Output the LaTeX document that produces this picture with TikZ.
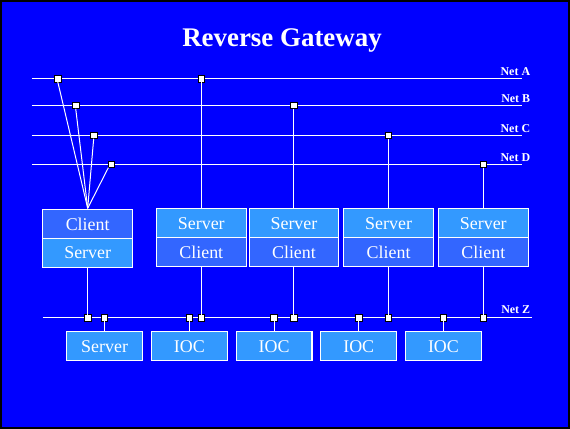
\documentclass[tikz,border=0pt]{standalone}
\usepackage{fontspec}
\setmainfont{Liberation Serif}
\usetikzlibrary{positioning}
\definecolor{bgblue}{RGB}{0,0,255}
\definecolor{lightbox}{RGB}{51,153,255}
\definecolor{darkbox}{RGB}{51,102,255}
\tikzset{
	every node/.style={outer sep=0pt},
}
\tikzstyle{net}=[draw=white, line width=1.2pt]
\tikzstyle{link}=[draw=white, line width=1pt]
\tikzstyle{tap}=[draw=black, fill=white, line width=0.8pt, minimum size=6.5pt, inner sep=0pt]
\tikzstyle{half}=[draw=white, line width=1.2pt, minimum width=90pt, minimum height=29pt, inner sep=0pt, text=white, font=\fontsize{18}{18}\selectfont]
\tikzstyle{lowbox}=[half, fill=lightbox, minimum width=76pt]
\tikzstyle{netlabel}=[anchor=east, text=white, inner sep=0pt, font=\fontsize{12}{12}\selectfont\bfseries]

\begin{document}
\begin{tikzpicture}[x=1pt,y=-1pt]
	% background.....................
	\fill [bgblue] (0,0) rectangle (570,428);
	\draw [black, line width=2pt] (0,0) rectangle (570,428);
	\useasboundingbox (0,0) rectangle (570,428);

	% title.....................
	\node [text=white, font=\fontsize{27}{27}\selectfont\bfseries] (title) at (282,40) {Reverse Gateway};

	% nets......................
	\draw [net] (31,78) coordinate (aL) -- (523,78) coordinate (aR);
	\draw [net] (31,105) coordinate (bL) -- (523,105) coordinate (bR);
	\draw [net] (31,135) coordinate (cL) -- (523,135) coordinate (cR);
	\draw [net] (31,164) coordinate (dL) -- (523,164) coordinate (dR);
	\draw [net] (42,318) coordinate (zL) -- (533,318) coordinate (zR);
	\node [netlabel] (labA) at (531,71) {Net A};
	\node [netlabel] (labB) at (531,98) {Net B};
	\node [netlabel] (labC) at (531,128) {Net C};
	\node [netlabel] (labD) at (531,157) {Net D};
	\node [netlabel] (labZ) at (531,310) {Net Z};

	% taps on the nets..........
	\node [tap] (tA1) at (57,78) {};
	\node [tap] (tB1) at (75,105) {};
	\node [tap] (tC1) at (93,135) {};
	\node [tap] (tD1) at (111,164) {};
	\node [tap] (tA2) at (201,78) {};
	\node [tap] (tB2) at (294,105) {};
	\node [tap] (tC2) at (389,135) {};
	\node [tap] (tD2) at (484,164) {};

	\node [tap] (tZ1) at (87,318) {};
	\node [tap] (tZ2) at (104,318) {};
	\node [tap] (tZ3) at (189,318) {};
	\node [tap] (tZ4) at (201,318) {};
	\node [tap] (tZ5) at (274,318) {};
	\node [tap] (tZ6) at (294,318) {};
	\node [tap] (tZ7) at (359,318) {};
	\node [tap] (tZ8) at (389,318) {};
	\node [tap] (tZ9) at (444,318) {};
	\node [tap] (tZ10) at (484,318) {};

	% gateway boxes.............
	\node [half, fill=darkbox] (gwCl) at (87,224) {Client};
	\node [half, fill=lightbox, below=0pt of gwCl] (gwSv) {Server};

	\node [half, fill=lightbox] (sv1) at (201,223) {Server};
	\node [half, fill=darkbox, below=0pt of sv1] (cl1) {Client};
	\node [half, fill=lightbox] (sv2) at (294,223) {Server};
	\node [half, fill=darkbox, below=0pt of sv2] (cl2) {Client};
	\node [half, fill=lightbox] (sv3) at (389,223) {Server};
	\node [half, fill=darkbox, below=0pt of sv3] (cl3) {Client};
	\node [half, fill=lightbox] (sv4) at (484,223) {Server};
	\node [half, fill=darkbox, below=0pt of sv4] (cl4) {Client};

	% bottom row................
	\node [lowbox] (srvZ) at (104,346.5) {Server};
	\node [lowbox, right=9pt of srvZ] (ioc1) {IOC};
	\node [lowbox, right=9pt of ioc1] (ioc2) {IOC};
	\node [lowbox, right=9pt of ioc2] (ioc3) {IOC};
	\node [lowbox, right=9pt of ioc3] (ioc4) {IOC};

	% fan into the client.......
	\coordinate (fan) at (87,208);
	\draw [link] (tA1.south) -- (fan);
	\draw [link] (tB1.south) -- (fan);
	\draw [link] (tC1.south) -- (fan);
	\draw [link] (tD1.south west) -- (fan);

	% links to the nets.........
	\draw [link] (tA2.south) -- (sv1.north);
	\draw [link] (tB2.south) -- (sv2.north);
	\draw [link] (tC2.south) -- (sv3.north);
	\draw [link] (tD2.south) -- (sv4.north);

	\draw [link] (gwSv.south) -- (tZ1.north);
	\draw [link] (cl1.south) -- (tZ4.north);
	\draw [link] (cl2.south) -- (tZ6.north);
	\draw [link] (cl3.south) -- (tZ8.north);
	\draw [link] (cl4.south) -- (tZ10.north);

	\draw [link] (tZ2.south) -- (srvZ.north);
	\draw [link] (tZ3.south) -- (ioc1.north);
	\draw [link] (tZ5.south) -- (ioc2.north);
	\draw [link] (tZ7.south) -- (ioc3.north);
	\draw [link] (tZ9.south) -- (ioc4.north);
\end{tikzpicture}
\end{document}
